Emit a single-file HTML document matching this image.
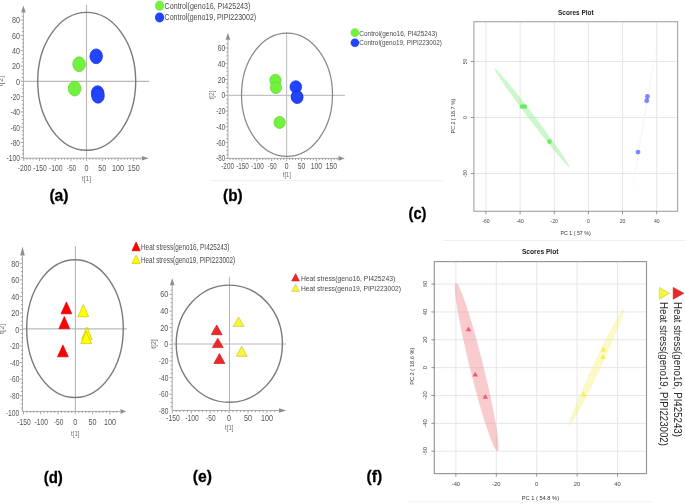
<!DOCTYPE html><html><head><meta charset="utf-8"><style>html,body{margin:0;padding:0;background:#fff;overflow:hidden}svg{display:block;will-change:transform}text{font-family:"Liberation Sans", sans-serif}</style></head><body>
<svg width="685" height="504" viewBox="0 0 685 504">
<rect width="685" height="504" fill="#fff"/>
<line x1="211" y1="180.6" x2="443" y2="180.6" stroke="#efefef" stroke-width="1"/>
<line x1="443" y1="240.5" x2="685" y2="240.5" stroke="#efefef" stroke-width="1"/>
<line x1="407" y1="501.8" x2="652" y2="501.8" stroke="#f2f2f2" stroke-width="1"/>
<line x1="23.4" y1="12.5" x2="23.4" y2="158.2" stroke="#acacac" stroke-width="1"/>
<polygon points="23.4,5.5 21.1,12.5 25.7,12.5" fill="#8e8e8e"/>
<line x1="23.4" y1="158.2" x2="142" y2="158.2" stroke="#acacac" stroke-width="1"/>
<polygon points="148.6,158.2 142,155.9 142,160.5" fill="#8e8e8e"/>
<line x1="20.6" y1="157.8" x2="23.4" y2="157.8" stroke="#8e8e8e" stroke-width="0.8"/>
<line x1="21.8" y1="153.97" x2="23.4" y2="153.97" stroke="#8e8e8e" stroke-width="0.8"/>
<line x1="21.8" y1="150.15" x2="23.4" y2="150.15" stroke="#8e8e8e" stroke-width="0.8"/>
<line x1="21.8" y1="146.32" x2="23.4" y2="146.32" stroke="#8e8e8e" stroke-width="0.8"/>
<line x1="20.6" y1="142.5" x2="23.4" y2="142.5" stroke="#8e8e8e" stroke-width="0.8"/>
<line x1="21.8" y1="138.68" x2="23.4" y2="138.68" stroke="#8e8e8e" stroke-width="0.8"/>
<line x1="21.8" y1="134.85" x2="23.4" y2="134.85" stroke="#8e8e8e" stroke-width="0.8"/>
<line x1="21.8" y1="131.03" x2="23.4" y2="131.03" stroke="#8e8e8e" stroke-width="0.8"/>
<line x1="20.6" y1="127.2" x2="23.4" y2="127.2" stroke="#8e8e8e" stroke-width="0.8"/>
<line x1="21.8" y1="123.38" x2="23.4" y2="123.38" stroke="#8e8e8e" stroke-width="0.8"/>
<line x1="21.8" y1="119.55" x2="23.4" y2="119.55" stroke="#8e8e8e" stroke-width="0.8"/>
<line x1="21.8" y1="115.72" x2="23.4" y2="115.72" stroke="#8e8e8e" stroke-width="0.8"/>
<line x1="20.6" y1="111.9" x2="23.4" y2="111.9" stroke="#8e8e8e" stroke-width="0.8"/>
<line x1="21.8" y1="108.08" x2="23.4" y2="108.08" stroke="#8e8e8e" stroke-width="0.8"/>
<line x1="21.8" y1="104.25" x2="23.4" y2="104.25" stroke="#8e8e8e" stroke-width="0.8"/>
<line x1="21.8" y1="100.42" x2="23.4" y2="100.42" stroke="#8e8e8e" stroke-width="0.8"/>
<line x1="20.6" y1="96.6" x2="23.4" y2="96.6" stroke="#8e8e8e" stroke-width="0.8"/>
<line x1="21.8" y1="92.77" x2="23.4" y2="92.77" stroke="#8e8e8e" stroke-width="0.8"/>
<line x1="21.8" y1="88.95" x2="23.4" y2="88.95" stroke="#8e8e8e" stroke-width="0.8"/>
<line x1="21.8" y1="85.12" x2="23.4" y2="85.12" stroke="#8e8e8e" stroke-width="0.8"/>
<line x1="20.6" y1="81.3" x2="23.4" y2="81.3" stroke="#8e8e8e" stroke-width="0.8"/>
<line x1="21.8" y1="77.47" x2="23.4" y2="77.47" stroke="#8e8e8e" stroke-width="0.8"/>
<line x1="21.8" y1="73.65" x2="23.4" y2="73.65" stroke="#8e8e8e" stroke-width="0.8"/>
<line x1="21.8" y1="69.83" x2="23.4" y2="69.83" stroke="#8e8e8e" stroke-width="0.8"/>
<line x1="20.6" y1="66" x2="23.4" y2="66" stroke="#8e8e8e" stroke-width="0.8"/>
<line x1="21.8" y1="62.17" x2="23.4" y2="62.17" stroke="#8e8e8e" stroke-width="0.8"/>
<line x1="21.8" y1="58.35" x2="23.4" y2="58.35" stroke="#8e8e8e" stroke-width="0.8"/>
<line x1="21.8" y1="54.52" x2="23.4" y2="54.52" stroke="#8e8e8e" stroke-width="0.8"/>
<line x1="20.6" y1="50.7" x2="23.4" y2="50.7" stroke="#8e8e8e" stroke-width="0.8"/>
<line x1="21.8" y1="46.88" x2="23.4" y2="46.88" stroke="#8e8e8e" stroke-width="0.8"/>
<line x1="21.8" y1="43.05" x2="23.4" y2="43.05" stroke="#8e8e8e" stroke-width="0.8"/>
<line x1="21.8" y1="39.22" x2="23.4" y2="39.22" stroke="#8e8e8e" stroke-width="0.8"/>
<line x1="20.6" y1="35.4" x2="23.4" y2="35.4" stroke="#8e8e8e" stroke-width="0.8"/>
<line x1="21.8" y1="31.57" x2="23.4" y2="31.57" stroke="#8e8e8e" stroke-width="0.8"/>
<line x1="21.8" y1="27.75" x2="23.4" y2="27.75" stroke="#8e8e8e" stroke-width="0.8"/>
<line x1="21.8" y1="23.92" x2="23.4" y2="23.92" stroke="#8e8e8e" stroke-width="0.8"/>
<line x1="20.6" y1="20.1" x2="23.4" y2="20.1" stroke="#8e8e8e" stroke-width="0.8"/>
<line x1="21.8" y1="16.27" x2="23.4" y2="16.27" stroke="#8e8e8e" stroke-width="0.8"/>
<line x1="23.8" y1="158.2" x2="23.8" y2="161" stroke="#8e8e8e" stroke-width="0.8"/>
<line x1="26.94" y1="158.2" x2="26.94" y2="159.8" stroke="#8e8e8e" stroke-width="0.8"/>
<line x1="30.08" y1="158.2" x2="30.08" y2="159.8" stroke="#8e8e8e" stroke-width="0.8"/>
<line x1="33.22" y1="158.2" x2="33.22" y2="159.8" stroke="#8e8e8e" stroke-width="0.8"/>
<line x1="36.36" y1="158.2" x2="36.36" y2="159.8" stroke="#8e8e8e" stroke-width="0.8"/>
<line x1="39.5" y1="158.2" x2="39.5" y2="161" stroke="#8e8e8e" stroke-width="0.8"/>
<line x1="42.64" y1="158.2" x2="42.64" y2="159.8" stroke="#8e8e8e" stroke-width="0.8"/>
<line x1="45.78" y1="158.2" x2="45.78" y2="159.8" stroke="#8e8e8e" stroke-width="0.8"/>
<line x1="48.92" y1="158.2" x2="48.92" y2="159.8" stroke="#8e8e8e" stroke-width="0.8"/>
<line x1="52.06" y1="158.2" x2="52.06" y2="159.8" stroke="#8e8e8e" stroke-width="0.8"/>
<line x1="55.2" y1="158.2" x2="55.2" y2="161" stroke="#8e8e8e" stroke-width="0.8"/>
<line x1="58.34" y1="158.2" x2="58.34" y2="159.8" stroke="#8e8e8e" stroke-width="0.8"/>
<line x1="61.48" y1="158.2" x2="61.48" y2="159.8" stroke="#8e8e8e" stroke-width="0.8"/>
<line x1="64.62" y1="158.2" x2="64.62" y2="159.8" stroke="#8e8e8e" stroke-width="0.8"/>
<line x1="67.76" y1="158.2" x2="67.76" y2="159.8" stroke="#8e8e8e" stroke-width="0.8"/>
<line x1="70.9" y1="158.2" x2="70.9" y2="161" stroke="#8e8e8e" stroke-width="0.8"/>
<line x1="74.04" y1="158.2" x2="74.04" y2="159.8" stroke="#8e8e8e" stroke-width="0.8"/>
<line x1="77.18" y1="158.2" x2="77.18" y2="159.8" stroke="#8e8e8e" stroke-width="0.8"/>
<line x1="80.32" y1="158.2" x2="80.32" y2="159.8" stroke="#8e8e8e" stroke-width="0.8"/>
<line x1="83.46" y1="158.2" x2="83.46" y2="159.8" stroke="#8e8e8e" stroke-width="0.8"/>
<line x1="86.6" y1="158.2" x2="86.6" y2="161" stroke="#8e8e8e" stroke-width="0.8"/>
<line x1="89.74" y1="158.2" x2="89.74" y2="159.8" stroke="#8e8e8e" stroke-width="0.8"/>
<line x1="92.88" y1="158.2" x2="92.88" y2="159.8" stroke="#8e8e8e" stroke-width="0.8"/>
<line x1="96.02" y1="158.2" x2="96.02" y2="159.8" stroke="#8e8e8e" stroke-width="0.8"/>
<line x1="99.16" y1="158.2" x2="99.16" y2="159.8" stroke="#8e8e8e" stroke-width="0.8"/>
<line x1="102.3" y1="158.2" x2="102.3" y2="161" stroke="#8e8e8e" stroke-width="0.8"/>
<line x1="105.44" y1="158.2" x2="105.44" y2="159.8" stroke="#8e8e8e" stroke-width="0.8"/>
<line x1="108.58" y1="158.2" x2="108.58" y2="159.8" stroke="#8e8e8e" stroke-width="0.8"/>
<line x1="111.72" y1="158.2" x2="111.72" y2="159.8" stroke="#8e8e8e" stroke-width="0.8"/>
<line x1="114.86" y1="158.2" x2="114.86" y2="159.8" stroke="#8e8e8e" stroke-width="0.8"/>
<line x1="118" y1="158.2" x2="118" y2="161" stroke="#8e8e8e" stroke-width="0.8"/>
<line x1="121.14" y1="158.2" x2="121.14" y2="159.8" stroke="#8e8e8e" stroke-width="0.8"/>
<line x1="124.28" y1="158.2" x2="124.28" y2="159.8" stroke="#8e8e8e" stroke-width="0.8"/>
<line x1="127.42" y1="158.2" x2="127.42" y2="159.8" stroke="#8e8e8e" stroke-width="0.8"/>
<line x1="130.56" y1="158.2" x2="130.56" y2="159.8" stroke="#8e8e8e" stroke-width="0.8"/>
<line x1="133.7" y1="158.2" x2="133.7" y2="161" stroke="#8e8e8e" stroke-width="0.8"/>
<line x1="136.84" y1="158.2" x2="136.84" y2="159.8" stroke="#8e8e8e" stroke-width="0.8"/>
<line x1="139.98" y1="158.2" x2="139.98" y2="159.8" stroke="#8e8e8e" stroke-width="0.8"/>
<text x="20" y="23.43" font-size="9.3" fill="#555" text-anchor="end" textLength="8.01" lengthAdjust="spacingAndGlyphs">80</text>
<text x="20" y="38.73" font-size="9.3" fill="#555" text-anchor="end" textLength="8.01" lengthAdjust="spacingAndGlyphs">60</text>
<text x="20" y="54.03" font-size="9.3" fill="#555" text-anchor="end" textLength="8.01" lengthAdjust="spacingAndGlyphs">40</text>
<text x="20" y="69.33" font-size="9.3" fill="#555" text-anchor="end" textLength="8.01" lengthAdjust="spacingAndGlyphs">20</text>
<text x="20" y="84.63" font-size="9.3" fill="#555" text-anchor="end" textLength="4" lengthAdjust="spacingAndGlyphs">0</text>
<text x="20" y="99.93" font-size="9.3" fill="#555" text-anchor="end" textLength="9.51" lengthAdjust="spacingAndGlyphs">-20</text>
<text x="20" y="115.23" font-size="9.3" fill="#555" text-anchor="end" textLength="9.51" lengthAdjust="spacingAndGlyphs">-40</text>
<text x="20" y="130.53" font-size="9.3" fill="#555" text-anchor="end" textLength="9.51" lengthAdjust="spacingAndGlyphs">-60</text>
<text x="20" y="145.83" font-size="9.3" fill="#555" text-anchor="end" textLength="9.51" lengthAdjust="spacingAndGlyphs">-80</text>
<text x="20" y="161.13" font-size="9.3" fill="#555" text-anchor="end" textLength="13.51" lengthAdjust="spacingAndGlyphs">-100</text>
<text x="24.4" y="171.43" font-size="9.3" fill="#555" text-anchor="middle" textLength="13.51" lengthAdjust="spacingAndGlyphs">-200</text>
<text x="40.1" y="171.43" font-size="9.3" fill="#555" text-anchor="middle" textLength="13.51" lengthAdjust="spacingAndGlyphs">-150</text>
<text x="55.8" y="171.43" font-size="9.3" fill="#555" text-anchor="middle" textLength="13.51" lengthAdjust="spacingAndGlyphs">-100</text>
<text x="71.5" y="171.43" font-size="9.3" fill="#555" text-anchor="middle" textLength="9.51" lengthAdjust="spacingAndGlyphs">-50</text>
<text x="86.6" y="171.43" font-size="9.3" fill="#555" text-anchor="middle" textLength="4" lengthAdjust="spacingAndGlyphs">0</text>
<text x="102.3" y="171.43" font-size="9.3" fill="#555" text-anchor="middle" textLength="8.01" lengthAdjust="spacingAndGlyphs">50</text>
<text x="118" y="171.43" font-size="9.3" fill="#555" text-anchor="middle" textLength="12.01" lengthAdjust="spacingAndGlyphs">100</text>
<text x="133.7" y="171.43" font-size="9.3" fill="#555" text-anchor="middle" textLength="12.01" lengthAdjust="spacingAndGlyphs">150</text>
<line x1="23.4" y1="81.3" x2="149.2" y2="81.3" stroke="#b9b9b9" stroke-width="1.15"/>
<line x1="86.5" y1="4.8" x2="86.5" y2="158.2" stroke="#b9b9b9" stroke-width="1.15"/>
<ellipse cx="86.7" cy="81.35" rx="49" ry="68.95" fill="none" stroke="#7a7a7a" stroke-width="1.4"/>
<text x="86.6" y="181.27" font-size="7.2" fill="#707070" text-anchor="middle" textLength="9.1" lengthAdjust="spacingAndGlyphs">t[1]</text>
<text x="2.6" y="81" font-size="7.2" fill="#707070" text-anchor="middle" textLength="10.6" lengthAdjust="spacingAndGlyphs" transform="rotate(-90 2.6 81)">t[2]</text>
<ellipse cx="79.1" cy="64.2" rx="6.3" ry="7.4" fill="#72f23e" stroke="#5ed232" stroke-width="0.7"/>
<ellipse cx="74.6" cy="88.6" rx="6.3" ry="7.4" fill="#72f23e" stroke="#5ed232" stroke-width="0.7"/>
<ellipse cx="96.2" cy="56.3" rx="6.3" ry="7.4" fill="#2244ff" stroke="#1632d2" stroke-width="0.7"/>
<ellipse cx="97.6" cy="93.1" rx="6.3" ry="7.4" fill="#2244ff" stroke="#1632d2" stroke-width="0.7"/>
<ellipse cx="98" cy="95.8" rx="6.3" ry="7.4" fill="#2244ff" stroke="#1632d2" stroke-width="0.7"/>
<ellipse cx="159.6" cy="5.8" rx="4.6" ry="5" fill="#72f23e"/>
<ellipse cx="159.6" cy="17.5" rx="4.6" ry="5" fill="#2244ff"/>
<text x="164.6" y="9.1" font-size="8.6" fill="#4a4a4a" textLength="85.8" lengthAdjust="spacingAndGlyphs">Control(geno16, PI425243)</text>
<text x="164.6" y="20.4" font-size="8.6" fill="#4a4a4a" textLength="91.6" lengthAdjust="spacingAndGlyphs">Control(geno19, PIPI223002)</text>
<text x="49.4" y="201" font-size="17" fill="#000" font-weight="bold" textLength="19.2" lengthAdjust="spacingAndGlyphs" stroke="#000" stroke-width="0.3">(a)</text>
<line x1="227.9" y1="39.8" x2="227.9" y2="158.4" stroke="#acacac" stroke-width="1"/>
<polygon points="227.9,32.7 225.6,39.8 230.2,39.8" fill="#8e8e8e"/>
<line x1="227.9" y1="158.4" x2="338.5" y2="158.4" stroke="#acacac" stroke-width="1"/>
<polygon points="344.8,158.4 338.5,156.1 338.5,160.7" fill="#8e8e8e"/>
<line x1="225.1" y1="158.42" x2="227.9" y2="158.42" stroke="#8e8e8e" stroke-width="0.8"/>
<line x1="226.3" y1="154.47" x2="227.9" y2="154.47" stroke="#8e8e8e" stroke-width="0.8"/>
<line x1="226.3" y1="150.53" x2="227.9" y2="150.53" stroke="#8e8e8e" stroke-width="0.8"/>
<line x1="226.3" y1="146.59" x2="227.9" y2="146.59" stroke="#8e8e8e" stroke-width="0.8"/>
<line x1="225.1" y1="142.64" x2="227.9" y2="142.64" stroke="#8e8e8e" stroke-width="0.8"/>
<line x1="226.3" y1="138.69" x2="227.9" y2="138.69" stroke="#8e8e8e" stroke-width="0.8"/>
<line x1="226.3" y1="134.75" x2="227.9" y2="134.75" stroke="#8e8e8e" stroke-width="0.8"/>
<line x1="226.3" y1="130.81" x2="227.9" y2="130.81" stroke="#8e8e8e" stroke-width="0.8"/>
<line x1="225.1" y1="126.86" x2="227.9" y2="126.86" stroke="#8e8e8e" stroke-width="0.8"/>
<line x1="226.3" y1="122.91" x2="227.9" y2="122.91" stroke="#8e8e8e" stroke-width="0.8"/>
<line x1="226.3" y1="118.97" x2="227.9" y2="118.97" stroke="#8e8e8e" stroke-width="0.8"/>
<line x1="226.3" y1="115.03" x2="227.9" y2="115.03" stroke="#8e8e8e" stroke-width="0.8"/>
<line x1="225.1" y1="111.08" x2="227.9" y2="111.08" stroke="#8e8e8e" stroke-width="0.8"/>
<line x1="226.3" y1="107.13" x2="227.9" y2="107.13" stroke="#8e8e8e" stroke-width="0.8"/>
<line x1="226.3" y1="103.19" x2="227.9" y2="103.19" stroke="#8e8e8e" stroke-width="0.8"/>
<line x1="226.3" y1="99.25" x2="227.9" y2="99.25" stroke="#8e8e8e" stroke-width="0.8"/>
<line x1="225.1" y1="95.3" x2="227.9" y2="95.3" stroke="#8e8e8e" stroke-width="0.8"/>
<line x1="226.3" y1="91.35" x2="227.9" y2="91.35" stroke="#8e8e8e" stroke-width="0.8"/>
<line x1="226.3" y1="87.41" x2="227.9" y2="87.41" stroke="#8e8e8e" stroke-width="0.8"/>
<line x1="226.3" y1="83.47" x2="227.9" y2="83.47" stroke="#8e8e8e" stroke-width="0.8"/>
<line x1="225.1" y1="79.52" x2="227.9" y2="79.52" stroke="#8e8e8e" stroke-width="0.8"/>
<line x1="226.3" y1="75.57" x2="227.9" y2="75.57" stroke="#8e8e8e" stroke-width="0.8"/>
<line x1="226.3" y1="71.63" x2="227.9" y2="71.63" stroke="#8e8e8e" stroke-width="0.8"/>
<line x1="226.3" y1="67.69" x2="227.9" y2="67.69" stroke="#8e8e8e" stroke-width="0.8"/>
<line x1="225.1" y1="63.74" x2="227.9" y2="63.74" stroke="#8e8e8e" stroke-width="0.8"/>
<line x1="226.3" y1="59.79" x2="227.9" y2="59.79" stroke="#8e8e8e" stroke-width="0.8"/>
<line x1="226.3" y1="55.85" x2="227.9" y2="55.85" stroke="#8e8e8e" stroke-width="0.8"/>
<line x1="226.3" y1="51.9" x2="227.9" y2="51.9" stroke="#8e8e8e" stroke-width="0.8"/>
<line x1="225.1" y1="47.96" x2="227.9" y2="47.96" stroke="#8e8e8e" stroke-width="0.8"/>
<line x1="226.3" y1="44.01" x2="227.9" y2="44.01" stroke="#8e8e8e" stroke-width="0.8"/>
<line x1="229.98" y1="158.4" x2="229.98" y2="160" stroke="#8e8e8e" stroke-width="0.8"/>
<line x1="232.96" y1="158.4" x2="232.96" y2="160" stroke="#8e8e8e" stroke-width="0.8"/>
<line x1="235.94" y1="158.4" x2="235.94" y2="160" stroke="#8e8e8e" stroke-width="0.8"/>
<line x1="238.92" y1="158.4" x2="238.92" y2="160" stroke="#8e8e8e" stroke-width="0.8"/>
<line x1="241.9" y1="158.4" x2="241.9" y2="161.2" stroke="#8e8e8e" stroke-width="0.8"/>
<line x1="244.88" y1="158.4" x2="244.88" y2="160" stroke="#8e8e8e" stroke-width="0.8"/>
<line x1="247.86" y1="158.4" x2="247.86" y2="160" stroke="#8e8e8e" stroke-width="0.8"/>
<line x1="250.84" y1="158.4" x2="250.84" y2="160" stroke="#8e8e8e" stroke-width="0.8"/>
<line x1="253.82" y1="158.4" x2="253.82" y2="160" stroke="#8e8e8e" stroke-width="0.8"/>
<line x1="256.8" y1="158.4" x2="256.8" y2="161.2" stroke="#8e8e8e" stroke-width="0.8"/>
<line x1="259.78" y1="158.4" x2="259.78" y2="160" stroke="#8e8e8e" stroke-width="0.8"/>
<line x1="262.76" y1="158.4" x2="262.76" y2="160" stroke="#8e8e8e" stroke-width="0.8"/>
<line x1="265.74" y1="158.4" x2="265.74" y2="160" stroke="#8e8e8e" stroke-width="0.8"/>
<line x1="268.72" y1="158.4" x2="268.72" y2="160" stroke="#8e8e8e" stroke-width="0.8"/>
<line x1="271.7" y1="158.4" x2="271.7" y2="161.2" stroke="#8e8e8e" stroke-width="0.8"/>
<line x1="274.68" y1="158.4" x2="274.68" y2="160" stroke="#8e8e8e" stroke-width="0.8"/>
<line x1="277.66" y1="158.4" x2="277.66" y2="160" stroke="#8e8e8e" stroke-width="0.8"/>
<line x1="280.64" y1="158.4" x2="280.64" y2="160" stroke="#8e8e8e" stroke-width="0.8"/>
<line x1="283.62" y1="158.4" x2="283.62" y2="160" stroke="#8e8e8e" stroke-width="0.8"/>
<line x1="286.6" y1="158.4" x2="286.6" y2="161.2" stroke="#8e8e8e" stroke-width="0.8"/>
<line x1="289.58" y1="158.4" x2="289.58" y2="160" stroke="#8e8e8e" stroke-width="0.8"/>
<line x1="292.56" y1="158.4" x2="292.56" y2="160" stroke="#8e8e8e" stroke-width="0.8"/>
<line x1="295.54" y1="158.4" x2="295.54" y2="160" stroke="#8e8e8e" stroke-width="0.8"/>
<line x1="298.52" y1="158.4" x2="298.52" y2="160" stroke="#8e8e8e" stroke-width="0.8"/>
<line x1="301.5" y1="158.4" x2="301.5" y2="161.2" stroke="#8e8e8e" stroke-width="0.8"/>
<line x1="304.48" y1="158.4" x2="304.48" y2="160" stroke="#8e8e8e" stroke-width="0.8"/>
<line x1="307.46" y1="158.4" x2="307.46" y2="160" stroke="#8e8e8e" stroke-width="0.8"/>
<line x1="310.44" y1="158.4" x2="310.44" y2="160" stroke="#8e8e8e" stroke-width="0.8"/>
<line x1="313.42" y1="158.4" x2="313.42" y2="160" stroke="#8e8e8e" stroke-width="0.8"/>
<line x1="316.4" y1="158.4" x2="316.4" y2="161.2" stroke="#8e8e8e" stroke-width="0.8"/>
<line x1="319.38" y1="158.4" x2="319.38" y2="160" stroke="#8e8e8e" stroke-width="0.8"/>
<line x1="322.36" y1="158.4" x2="322.36" y2="160" stroke="#8e8e8e" stroke-width="0.8"/>
<line x1="325.34" y1="158.4" x2="325.34" y2="160" stroke="#8e8e8e" stroke-width="0.8"/>
<line x1="328.32" y1="158.4" x2="328.32" y2="160" stroke="#8e8e8e" stroke-width="0.8"/>
<line x1="331.3" y1="158.4" x2="331.3" y2="161.2" stroke="#8e8e8e" stroke-width="0.8"/>
<line x1="334.28" y1="158.4" x2="334.28" y2="160" stroke="#8e8e8e" stroke-width="0.8"/>
<line x1="337.26" y1="158.4" x2="337.26" y2="160" stroke="#8e8e8e" stroke-width="0.8"/>
<text x="225.2" y="50.97" font-size="8.4" fill="#555" text-anchor="end" textLength="7.56" lengthAdjust="spacingAndGlyphs">60</text>
<text x="225.2" y="66.75" font-size="8.4" fill="#555" text-anchor="end" textLength="7.56" lengthAdjust="spacingAndGlyphs">40</text>
<text x="225.2" y="82.53" font-size="8.4" fill="#555" text-anchor="end" textLength="7.56" lengthAdjust="spacingAndGlyphs">20</text>
<text x="225.2" y="98.31" font-size="8.4" fill="#555" text-anchor="end" textLength="3.78" lengthAdjust="spacingAndGlyphs">0</text>
<text x="225.2" y="114.09" font-size="8.4" fill="#555" text-anchor="end" textLength="8.93" lengthAdjust="spacingAndGlyphs">-20</text>
<text x="225.2" y="129.87" font-size="8.4" fill="#555" text-anchor="end" textLength="8.93" lengthAdjust="spacingAndGlyphs">-40</text>
<text x="225.2" y="145.65" font-size="8.4" fill="#555" text-anchor="end" textLength="8.93" lengthAdjust="spacingAndGlyphs">-60</text>
<text x="225.2" y="161.43" font-size="8.4" fill="#555" text-anchor="end" textLength="8.93" lengthAdjust="spacingAndGlyphs">-80</text>
<text x="227.6" y="169.21" font-size="8.4" fill="#555" text-anchor="middle" textLength="12.71" lengthAdjust="spacingAndGlyphs">-200</text>
<text x="242.5" y="169.21" font-size="8.4" fill="#555" text-anchor="middle" textLength="12.71" lengthAdjust="spacingAndGlyphs">-150</text>
<text x="257.4" y="169.21" font-size="8.4" fill="#555" text-anchor="middle" textLength="12.71" lengthAdjust="spacingAndGlyphs">-100</text>
<text x="272.3" y="169.21" font-size="8.4" fill="#555" text-anchor="middle" textLength="8.93" lengthAdjust="spacingAndGlyphs">-50</text>
<text x="286.6" y="169.21" font-size="8.4" fill="#555" text-anchor="middle" textLength="3.78" lengthAdjust="spacingAndGlyphs">0</text>
<text x="301.5" y="169.21" font-size="8.4" fill="#555" text-anchor="middle" textLength="7.56" lengthAdjust="spacingAndGlyphs">50</text>
<text x="316.4" y="169.21" font-size="8.4" fill="#555" text-anchor="middle" textLength="11.34" lengthAdjust="spacingAndGlyphs">100</text>
<text x="331.3" y="169.21" font-size="8.4" fill="#555" text-anchor="middle" textLength="11.34" lengthAdjust="spacingAndGlyphs">150</text>
<line x1="227.9" y1="95.3" x2="345" y2="95.3" stroke="#c2c2c2" stroke-width="1.15"/>
<line x1="286.6" y1="32" x2="286.6" y2="158.4" stroke="#c2c2c2" stroke-width="1.15"/>
<ellipse cx="287" cy="94.7" rx="45.5" ry="61.6" fill="none" stroke="#888888" stroke-width="1.25"/>
<text x="286.9" y="177.16" font-size="6.4" fill="#707070" text-anchor="middle" textLength="8.2" lengthAdjust="spacingAndGlyphs">t[1]</text>
<text x="213.6" y="95" font-size="6.4" fill="#707070" text-anchor="middle" textLength="9" lengthAdjust="spacingAndGlyphs" transform="rotate(-90 213.6 95)">t[2]</text>
<ellipse cx="275.4" cy="80.2" rx="5.65" ry="6" fill="#72f23e" stroke="#5ed232" stroke-width="0.7"/>
<ellipse cx="275.9" cy="87.6" rx="5.65" ry="6" fill="#72f23e" stroke="#5ed232" stroke-width="0.7"/>
<ellipse cx="279.6" cy="122.4" rx="5.65" ry="6" fill="#72f23e" stroke="#5ed232" stroke-width="0.7"/>
<ellipse cx="295.8" cy="86.9" rx="5.8" ry="6.2" fill="#2244ff" stroke="#1632d2" stroke-width="0.7"/>
<ellipse cx="297" cy="96.6" rx="5.8" ry="6.2" fill="#2244ff" stroke="#1632d2" stroke-width="0.7"/>
<ellipse cx="297.2" cy="97.4" rx="5.8" ry="6.2" fill="#2244ff" stroke="#1632d2" stroke-width="0.7"/>
<circle cx="354.9" cy="32.6" r="4.3" fill="#72f23e"/>
<circle cx="354.9" cy="42.8" r="4.3" fill="#2244ff"/>
<text x="359.3" y="35.7" font-size="7.9" fill="#4a4a4a" textLength="77.9" lengthAdjust="spacingAndGlyphs">Control(geno16, PI425243)</text>
<text x="359.3" y="44.9" font-size="7.9" fill="#4a4a4a" textLength="82.7" lengthAdjust="spacingAndGlyphs">Control(geno19, PIPI223002)</text>
<text x="223.1" y="200.6" font-size="17" fill="#000" font-weight="bold" textLength="19.5" lengthAdjust="spacingAndGlyphs" stroke="#000" stroke-width="0.3">(b)</text>
<line x1="22.5" y1="255.6" x2="22.5" y2="411.4" stroke="#acacac" stroke-width="1"/>
<polygon points="22.5,246.5 20.2,255.6 24.8,255.6" fill="#8e8e8e"/>
<line x1="22.5" y1="411.4" x2="120.5" y2="411.4" stroke="#acacac" stroke-width="1"/>
<polygon points="126.2,411.4 120.5,409.1 120.5,413.7" fill="#8e8e8e"/>
<line x1="20.9" y1="408.06" x2="22.5" y2="408.06" stroke="#8e8e8e" stroke-width="0.8"/>
<line x1="20.9" y1="403.93" x2="22.5" y2="403.93" stroke="#8e8e8e" stroke-width="0.8"/>
<line x1="20.9" y1="399.8" x2="22.5" y2="399.8" stroke="#8e8e8e" stroke-width="0.8"/>
<line x1="19.7" y1="395.66" x2="22.5" y2="395.66" stroke="#8e8e8e" stroke-width="0.8"/>
<line x1="20.9" y1="391.52" x2="22.5" y2="391.52" stroke="#8e8e8e" stroke-width="0.8"/>
<line x1="20.9" y1="387.39" x2="22.5" y2="387.39" stroke="#8e8e8e" stroke-width="0.8"/>
<line x1="20.9" y1="383.25" x2="22.5" y2="383.25" stroke="#8e8e8e" stroke-width="0.8"/>
<line x1="19.7" y1="379.12" x2="22.5" y2="379.12" stroke="#8e8e8e" stroke-width="0.8"/>
<line x1="20.9" y1="374.99" x2="22.5" y2="374.99" stroke="#8e8e8e" stroke-width="0.8"/>
<line x1="20.9" y1="370.85" x2="22.5" y2="370.85" stroke="#8e8e8e" stroke-width="0.8"/>
<line x1="20.9" y1="366.71" x2="22.5" y2="366.71" stroke="#8e8e8e" stroke-width="0.8"/>
<line x1="19.7" y1="362.58" x2="22.5" y2="362.58" stroke="#8e8e8e" stroke-width="0.8"/>
<line x1="20.9" y1="358.44" x2="22.5" y2="358.44" stroke="#8e8e8e" stroke-width="0.8"/>
<line x1="20.9" y1="354.31" x2="22.5" y2="354.31" stroke="#8e8e8e" stroke-width="0.8"/>
<line x1="20.9" y1="350.18" x2="22.5" y2="350.18" stroke="#8e8e8e" stroke-width="0.8"/>
<line x1="19.7" y1="346.04" x2="22.5" y2="346.04" stroke="#8e8e8e" stroke-width="0.8"/>
<line x1="20.9" y1="341.9" x2="22.5" y2="341.9" stroke="#8e8e8e" stroke-width="0.8"/>
<line x1="20.9" y1="337.77" x2="22.5" y2="337.77" stroke="#8e8e8e" stroke-width="0.8"/>
<line x1="20.9" y1="333.63" x2="22.5" y2="333.63" stroke="#8e8e8e" stroke-width="0.8"/>
<line x1="19.7" y1="329.5" x2="22.5" y2="329.5" stroke="#8e8e8e" stroke-width="0.8"/>
<line x1="20.9" y1="325.37" x2="22.5" y2="325.37" stroke="#8e8e8e" stroke-width="0.8"/>
<line x1="20.9" y1="321.23" x2="22.5" y2="321.23" stroke="#8e8e8e" stroke-width="0.8"/>
<line x1="20.9" y1="317.1" x2="22.5" y2="317.1" stroke="#8e8e8e" stroke-width="0.8"/>
<line x1="19.7" y1="312.96" x2="22.5" y2="312.96" stroke="#8e8e8e" stroke-width="0.8"/>
<line x1="20.9" y1="308.82" x2="22.5" y2="308.82" stroke="#8e8e8e" stroke-width="0.8"/>
<line x1="20.9" y1="304.69" x2="22.5" y2="304.69" stroke="#8e8e8e" stroke-width="0.8"/>
<line x1="20.9" y1="300.56" x2="22.5" y2="300.56" stroke="#8e8e8e" stroke-width="0.8"/>
<line x1="19.7" y1="296.42" x2="22.5" y2="296.42" stroke="#8e8e8e" stroke-width="0.8"/>
<line x1="20.9" y1="292.29" x2="22.5" y2="292.29" stroke="#8e8e8e" stroke-width="0.8"/>
<line x1="20.9" y1="288.15" x2="22.5" y2="288.15" stroke="#8e8e8e" stroke-width="0.8"/>
<line x1="20.9" y1="284.01" x2="22.5" y2="284.01" stroke="#8e8e8e" stroke-width="0.8"/>
<line x1="19.7" y1="279.88" x2="22.5" y2="279.88" stroke="#8e8e8e" stroke-width="0.8"/>
<line x1="20.9" y1="275.75" x2="22.5" y2="275.75" stroke="#8e8e8e" stroke-width="0.8"/>
<line x1="20.9" y1="271.61" x2="22.5" y2="271.61" stroke="#8e8e8e" stroke-width="0.8"/>
<line x1="20.9" y1="267.48" x2="22.5" y2="267.48" stroke="#8e8e8e" stroke-width="0.8"/>
<line x1="19.7" y1="263.34" x2="22.5" y2="263.34" stroke="#8e8e8e" stroke-width="0.8"/>
<line x1="20.9" y1="259.2" x2="22.5" y2="259.2" stroke="#8e8e8e" stroke-width="0.8"/>
<line x1="23.4" y1="411.4" x2="23.4" y2="414.2" stroke="#8e8e8e" stroke-width="0.8"/>
<line x1="26.86" y1="411.4" x2="26.86" y2="413" stroke="#8e8e8e" stroke-width="0.8"/>
<line x1="30.32" y1="411.4" x2="30.32" y2="413" stroke="#8e8e8e" stroke-width="0.8"/>
<line x1="33.78" y1="411.4" x2="33.78" y2="413" stroke="#8e8e8e" stroke-width="0.8"/>
<line x1="37.24" y1="411.4" x2="37.24" y2="413" stroke="#8e8e8e" stroke-width="0.8"/>
<line x1="40.7" y1="411.4" x2="40.7" y2="414.2" stroke="#8e8e8e" stroke-width="0.8"/>
<line x1="44.16" y1="411.4" x2="44.16" y2="413" stroke="#8e8e8e" stroke-width="0.8"/>
<line x1="47.62" y1="411.4" x2="47.62" y2="413" stroke="#8e8e8e" stroke-width="0.8"/>
<line x1="51.08" y1="411.4" x2="51.08" y2="413" stroke="#8e8e8e" stroke-width="0.8"/>
<line x1="54.54" y1="411.4" x2="54.54" y2="413" stroke="#8e8e8e" stroke-width="0.8"/>
<line x1="58" y1="411.4" x2="58" y2="414.2" stroke="#8e8e8e" stroke-width="0.8"/>
<line x1="61.46" y1="411.4" x2="61.46" y2="413" stroke="#8e8e8e" stroke-width="0.8"/>
<line x1="64.92" y1="411.4" x2="64.92" y2="413" stroke="#8e8e8e" stroke-width="0.8"/>
<line x1="68.38" y1="411.4" x2="68.38" y2="413" stroke="#8e8e8e" stroke-width="0.8"/>
<line x1="71.84" y1="411.4" x2="71.84" y2="413" stroke="#8e8e8e" stroke-width="0.8"/>
<line x1="75.3" y1="411.4" x2="75.3" y2="414.2" stroke="#8e8e8e" stroke-width="0.8"/>
<line x1="78.76" y1="411.4" x2="78.76" y2="413" stroke="#8e8e8e" stroke-width="0.8"/>
<line x1="82.22" y1="411.4" x2="82.22" y2="413" stroke="#8e8e8e" stroke-width="0.8"/>
<line x1="85.68" y1="411.4" x2="85.68" y2="413" stroke="#8e8e8e" stroke-width="0.8"/>
<line x1="89.14" y1="411.4" x2="89.14" y2="413" stroke="#8e8e8e" stroke-width="0.8"/>
<line x1="92.6" y1="411.4" x2="92.6" y2="414.2" stroke="#8e8e8e" stroke-width="0.8"/>
<line x1="96.06" y1="411.4" x2="96.06" y2="413" stroke="#8e8e8e" stroke-width="0.8"/>
<line x1="99.52" y1="411.4" x2="99.52" y2="413" stroke="#8e8e8e" stroke-width="0.8"/>
<line x1="102.98" y1="411.4" x2="102.98" y2="413" stroke="#8e8e8e" stroke-width="0.8"/>
<line x1="106.44" y1="411.4" x2="106.44" y2="413" stroke="#8e8e8e" stroke-width="0.8"/>
<line x1="109.9" y1="411.4" x2="109.9" y2="414.2" stroke="#8e8e8e" stroke-width="0.8"/>
<line x1="113.36" y1="411.4" x2="113.36" y2="413" stroke="#8e8e8e" stroke-width="0.8"/>
<line x1="116.82" y1="411.4" x2="116.82" y2="413" stroke="#8e8e8e" stroke-width="0.8"/>
<text x="19.3" y="266.67" font-size="9.3" fill="#555" text-anchor="end" textLength="8.01" lengthAdjust="spacingAndGlyphs">80</text>
<text x="19.3" y="283.21" font-size="9.3" fill="#555" text-anchor="end" textLength="8.01" lengthAdjust="spacingAndGlyphs">60</text>
<text x="19.3" y="299.75" font-size="9.3" fill="#555" text-anchor="end" textLength="8.01" lengthAdjust="spacingAndGlyphs">40</text>
<text x="19.3" y="316.29" font-size="9.3" fill="#555" text-anchor="end" textLength="8.01" lengthAdjust="spacingAndGlyphs">20</text>
<text x="19.3" y="332.83" font-size="9.3" fill="#555" text-anchor="end" textLength="4" lengthAdjust="spacingAndGlyphs">0</text>
<text x="19.3" y="349.37" font-size="9.3" fill="#555" text-anchor="end" textLength="9.51" lengthAdjust="spacingAndGlyphs">-20</text>
<text x="19.3" y="365.91" font-size="9.3" fill="#555" text-anchor="end" textLength="9.51" lengthAdjust="spacingAndGlyphs">-40</text>
<text x="19.3" y="382.45" font-size="9.3" fill="#555" text-anchor="end" textLength="9.51" lengthAdjust="spacingAndGlyphs">-60</text>
<text x="19.3" y="398.99" font-size="9.3" fill="#555" text-anchor="end" textLength="9.51" lengthAdjust="spacingAndGlyphs">-80</text>
<text x="19.3" y="415.53" font-size="9.3" fill="#555" text-anchor="end" textLength="13.51" lengthAdjust="spacingAndGlyphs">-100</text>
<text x="24" y="425.33" font-size="9.3" fill="#555" text-anchor="middle" textLength="13.51" lengthAdjust="spacingAndGlyphs">-150</text>
<text x="41.3" y="425.33" font-size="9.3" fill="#555" text-anchor="middle" textLength="13.51" lengthAdjust="spacingAndGlyphs">-100</text>
<text x="58.6" y="425.33" font-size="9.3" fill="#555" text-anchor="middle" textLength="9.51" lengthAdjust="spacingAndGlyphs">-50</text>
<text x="75.3" y="425.33" font-size="9.3" fill="#555" text-anchor="middle" textLength="4" lengthAdjust="spacingAndGlyphs">0</text>
<text x="92.6" y="425.33" font-size="9.3" fill="#555" text-anchor="middle" textLength="8.01" lengthAdjust="spacingAndGlyphs">50</text>
<text x="109.9" y="425.33" font-size="9.3" fill="#555" text-anchor="middle" textLength="12.01" lengthAdjust="spacingAndGlyphs">100</text>
<line x1="22.5" y1="328.8" x2="127" y2="328.8" stroke="#b9b9b9" stroke-width="1.15"/>
<line x1="75.4" y1="246.3" x2="75.4" y2="411.4" stroke="#b9b9b9" stroke-width="1.15"/>
<ellipse cx="75" cy="328.65" rx="48.3" ry="68.9" fill="none" stroke="#7a7a7a" stroke-width="1.4"/>
<text x="75.3" y="436.32" font-size="7" fill="#707070" text-anchor="middle" textLength="8.4" lengthAdjust="spacingAndGlyphs">t[1]</text>
<text x="4.4" y="328.8" font-size="7.2" fill="#707070" text-anchor="middle" textLength="10.5" lengthAdjust="spacingAndGlyphs" transform="rotate(-90 4.4 328.8)">t[2]</text>
<polygon points="66.4,301.9 61,313.8 71.8,313.8" fill="#ff0000" stroke="#e00000" stroke-width="0.7" stroke-linejoin="round"/>
<polygon points="64.3,316.4 58.9,328.7 69.7,328.7" fill="#ff0000" stroke="#e00000" stroke-width="0.7" stroke-linejoin="round"/>
<polygon points="62.9,344.9 57.5,356.8 68.3,356.8" fill="#ff0000" stroke="#e00000" stroke-width="0.7" stroke-linejoin="round"/>
<polygon points="83.3,304.5 78,316.8 88.6,316.8" fill="#ffff00" stroke="#c8c800" stroke-width="0.7" stroke-linejoin="round"/>
<polygon points="86.9,327.1 81.6,339.4 92.2,339.4" fill="#ffff00" stroke="#c8c800" stroke-width="0.7" stroke-linejoin="round"/>
<polygon points="86.1,331.1 80.8,343.6 91.4,343.6" fill="#ffff00" stroke="#c8c800" stroke-width="0.7" stroke-linejoin="round"/>
<polygon points="136.1,242 132,250.8 140.2,250.8" fill="#ff0000" stroke="#e00000" stroke-width="0.7" stroke-linejoin="round"/>
<polygon points="136.1,255.1 132,263.4 140.2,263.4" fill="#ffff00" stroke="#c8c800" stroke-width="0.7" stroke-linejoin="round"/>
<text x="141" y="250.4" font-size="8.6" fill="#4a4a4a" textLength="88.5" lengthAdjust="spacingAndGlyphs">Heat stress(geno16, PI425243)</text>
<text x="141" y="263" font-size="8.6" fill="#4a4a4a" textLength="94.1" lengthAdjust="spacingAndGlyphs">Heat stress(geno19, PIPI223002)</text>
<text x="43.7" y="482.9" font-size="17" fill="#000" font-weight="bold" textLength="19.2" lengthAdjust="spacingAndGlyphs" stroke="#000" stroke-width="0.3">(d)</text>
<line x1="172.2" y1="285.2" x2="172.2" y2="410.5" stroke="#acacac" stroke-width="1"/>
<polygon points="172.2,278 169.9,285.2 174.5,285.2" fill="#8e8e8e"/>
<line x1="172.2" y1="410.5" x2="279" y2="410.5" stroke="#acacac" stroke-width="1"/>
<polygon points="286.2,410.5 279,408.2 279,412.8" fill="#8e8e8e"/>
<line x1="170.6" y1="406.7" x2="172.2" y2="406.7" stroke="#8e8e8e" stroke-width="0.8"/>
<line x1="170.6" y1="402.54" x2="172.2" y2="402.54" stroke="#8e8e8e" stroke-width="0.8"/>
<line x1="170.6" y1="398.38" x2="172.2" y2="398.38" stroke="#8e8e8e" stroke-width="0.8"/>
<line x1="169.4" y1="394.22" x2="172.2" y2="394.22" stroke="#8e8e8e" stroke-width="0.8"/>
<line x1="170.6" y1="390.06" x2="172.2" y2="390.06" stroke="#8e8e8e" stroke-width="0.8"/>
<line x1="170.6" y1="385.9" x2="172.2" y2="385.9" stroke="#8e8e8e" stroke-width="0.8"/>
<line x1="170.6" y1="381.74" x2="172.2" y2="381.74" stroke="#8e8e8e" stroke-width="0.8"/>
<line x1="169.4" y1="377.58" x2="172.2" y2="377.58" stroke="#8e8e8e" stroke-width="0.8"/>
<line x1="170.6" y1="373.42" x2="172.2" y2="373.42" stroke="#8e8e8e" stroke-width="0.8"/>
<line x1="170.6" y1="369.26" x2="172.2" y2="369.26" stroke="#8e8e8e" stroke-width="0.8"/>
<line x1="170.6" y1="365.1" x2="172.2" y2="365.1" stroke="#8e8e8e" stroke-width="0.8"/>
<line x1="169.4" y1="360.94" x2="172.2" y2="360.94" stroke="#8e8e8e" stroke-width="0.8"/>
<line x1="170.6" y1="356.78" x2="172.2" y2="356.78" stroke="#8e8e8e" stroke-width="0.8"/>
<line x1="170.6" y1="352.62" x2="172.2" y2="352.62" stroke="#8e8e8e" stroke-width="0.8"/>
<line x1="170.6" y1="348.46" x2="172.2" y2="348.46" stroke="#8e8e8e" stroke-width="0.8"/>
<line x1="169.4" y1="344.3" x2="172.2" y2="344.3" stroke="#8e8e8e" stroke-width="0.8"/>
<line x1="170.6" y1="340.14" x2="172.2" y2="340.14" stroke="#8e8e8e" stroke-width="0.8"/>
<line x1="170.6" y1="335.98" x2="172.2" y2="335.98" stroke="#8e8e8e" stroke-width="0.8"/>
<line x1="170.6" y1="331.82" x2="172.2" y2="331.82" stroke="#8e8e8e" stroke-width="0.8"/>
<line x1="169.4" y1="327.66" x2="172.2" y2="327.66" stroke="#8e8e8e" stroke-width="0.8"/>
<line x1="170.6" y1="323.5" x2="172.2" y2="323.5" stroke="#8e8e8e" stroke-width="0.8"/>
<line x1="170.6" y1="319.34" x2="172.2" y2="319.34" stroke="#8e8e8e" stroke-width="0.8"/>
<line x1="170.6" y1="315.18" x2="172.2" y2="315.18" stroke="#8e8e8e" stroke-width="0.8"/>
<line x1="169.4" y1="311.02" x2="172.2" y2="311.02" stroke="#8e8e8e" stroke-width="0.8"/>
<line x1="170.6" y1="306.86" x2="172.2" y2="306.86" stroke="#8e8e8e" stroke-width="0.8"/>
<line x1="170.6" y1="302.7" x2="172.2" y2="302.7" stroke="#8e8e8e" stroke-width="0.8"/>
<line x1="170.6" y1="298.54" x2="172.2" y2="298.54" stroke="#8e8e8e" stroke-width="0.8"/>
<line x1="169.4" y1="294.38" x2="172.2" y2="294.38" stroke="#8e8e8e" stroke-width="0.8"/>
<line x1="170.6" y1="290.22" x2="172.2" y2="290.22" stroke="#8e8e8e" stroke-width="0.8"/>
<line x1="172.4" y1="410.5" x2="172.4" y2="413.3" stroke="#8e8e8e" stroke-width="0.8"/>
<line x1="176.18" y1="410.5" x2="176.18" y2="412.1" stroke="#8e8e8e" stroke-width="0.8"/>
<line x1="179.96" y1="410.5" x2="179.96" y2="412.1" stroke="#8e8e8e" stroke-width="0.8"/>
<line x1="183.74" y1="410.5" x2="183.74" y2="412.1" stroke="#8e8e8e" stroke-width="0.8"/>
<line x1="187.52" y1="410.5" x2="187.52" y2="412.1" stroke="#8e8e8e" stroke-width="0.8"/>
<line x1="191.3" y1="410.5" x2="191.3" y2="413.3" stroke="#8e8e8e" stroke-width="0.8"/>
<line x1="195.08" y1="410.5" x2="195.08" y2="412.1" stroke="#8e8e8e" stroke-width="0.8"/>
<line x1="198.86" y1="410.5" x2="198.86" y2="412.1" stroke="#8e8e8e" stroke-width="0.8"/>
<line x1="202.64" y1="410.5" x2="202.64" y2="412.1" stroke="#8e8e8e" stroke-width="0.8"/>
<line x1="206.42" y1="410.5" x2="206.42" y2="412.1" stroke="#8e8e8e" stroke-width="0.8"/>
<line x1="210.2" y1="410.5" x2="210.2" y2="413.3" stroke="#8e8e8e" stroke-width="0.8"/>
<line x1="213.98" y1="410.5" x2="213.98" y2="412.1" stroke="#8e8e8e" stroke-width="0.8"/>
<line x1="217.76" y1="410.5" x2="217.76" y2="412.1" stroke="#8e8e8e" stroke-width="0.8"/>
<line x1="221.54" y1="410.5" x2="221.54" y2="412.1" stroke="#8e8e8e" stroke-width="0.8"/>
<line x1="225.32" y1="410.5" x2="225.32" y2="412.1" stroke="#8e8e8e" stroke-width="0.8"/>
<line x1="229.1" y1="410.5" x2="229.1" y2="413.3" stroke="#8e8e8e" stroke-width="0.8"/>
<line x1="232.88" y1="410.5" x2="232.88" y2="412.1" stroke="#8e8e8e" stroke-width="0.8"/>
<line x1="236.66" y1="410.5" x2="236.66" y2="412.1" stroke="#8e8e8e" stroke-width="0.8"/>
<line x1="240.44" y1="410.5" x2="240.44" y2="412.1" stroke="#8e8e8e" stroke-width="0.8"/>
<line x1="244.22" y1="410.5" x2="244.22" y2="412.1" stroke="#8e8e8e" stroke-width="0.8"/>
<line x1="248" y1="410.5" x2="248" y2="413.3" stroke="#8e8e8e" stroke-width="0.8"/>
<line x1="251.78" y1="410.5" x2="251.78" y2="412.1" stroke="#8e8e8e" stroke-width="0.8"/>
<line x1="255.56" y1="410.5" x2="255.56" y2="412.1" stroke="#8e8e8e" stroke-width="0.8"/>
<line x1="259.34" y1="410.5" x2="259.34" y2="412.1" stroke="#8e8e8e" stroke-width="0.8"/>
<line x1="263.12" y1="410.5" x2="263.12" y2="412.1" stroke="#8e8e8e" stroke-width="0.8"/>
<line x1="266.9" y1="410.5" x2="266.9" y2="413.3" stroke="#8e8e8e" stroke-width="0.8"/>
<line x1="270.68" y1="410.5" x2="270.68" y2="412.1" stroke="#8e8e8e" stroke-width="0.8"/>
<line x1="274.46" y1="410.5" x2="274.46" y2="412.1" stroke="#8e8e8e" stroke-width="0.8"/>
<text x="168.3" y="297.46" font-size="8.6" fill="#555" text-anchor="end" textLength="8.01" lengthAdjust="spacingAndGlyphs">60</text>
<text x="168.3" y="314.1" font-size="8.6" fill="#555" text-anchor="end" textLength="8.01" lengthAdjust="spacingAndGlyphs">40</text>
<text x="168.3" y="330.74" font-size="8.6" fill="#555" text-anchor="end" textLength="8.01" lengthAdjust="spacingAndGlyphs">20</text>
<text x="168.3" y="347.38" font-size="8.6" fill="#555" text-anchor="end" textLength="4" lengthAdjust="spacingAndGlyphs">0</text>
<text x="168.3" y="364.02" font-size="8.6" fill="#555" text-anchor="end" textLength="9.51" lengthAdjust="spacingAndGlyphs">-20</text>
<text x="168.3" y="380.66" font-size="8.6" fill="#555" text-anchor="end" textLength="9.51" lengthAdjust="spacingAndGlyphs">-40</text>
<text x="168.3" y="397.3" font-size="8.6" fill="#555" text-anchor="end" textLength="9.51" lengthAdjust="spacingAndGlyphs">-60</text>
<text x="168.3" y="413.94" font-size="8.6" fill="#555" text-anchor="end" textLength="9.51" lengthAdjust="spacingAndGlyphs">-80</text>
<text x="173" y="421.28" font-size="8.6" fill="#555" text-anchor="middle" textLength="13.51" lengthAdjust="spacingAndGlyphs">-150</text>
<text x="191.9" y="421.28" font-size="8.6" fill="#555" text-anchor="middle" textLength="13.51" lengthAdjust="spacingAndGlyphs">-100</text>
<text x="210.8" y="421.28" font-size="8.6" fill="#555" text-anchor="middle" textLength="9.51" lengthAdjust="spacingAndGlyphs">-50</text>
<text x="229.1" y="421.28" font-size="8.6" fill="#555" text-anchor="middle" textLength="4" lengthAdjust="spacingAndGlyphs">0</text>
<text x="248" y="421.28" font-size="8.6" fill="#555" text-anchor="middle" textLength="8.01" lengthAdjust="spacingAndGlyphs">50</text>
<text x="266.9" y="421.28" font-size="8.6" fill="#555" text-anchor="middle" textLength="12.01" lengthAdjust="spacingAndGlyphs">100</text>
<line x1="172.2" y1="344" x2="286" y2="344" stroke="#b9b9b9" stroke-width="1.15"/>
<line x1="229.5" y1="277" x2="229.5" y2="410.5" stroke="#b9b9b9" stroke-width="1.15"/>
<ellipse cx="229.3" cy="343.7" rx="53.1" ry="58.6" fill="none" stroke="#7a7a7a" stroke-width="1.4"/>
<text x="229.3" y="430.12" font-size="7" fill="#707070" text-anchor="middle" textLength="8.4" lengthAdjust="spacingAndGlyphs">t[1]</text>
<text x="155.6" y="344" font-size="7" fill="#707070" text-anchor="middle" textLength="9.5" lengthAdjust="spacingAndGlyphs" transform="rotate(-90 155.6 344)">t[2]</text>
<polygon points="216.7,325 211.2,334.7 222.2,334.7" fill="#ea2a2a" stroke="#d02020" stroke-width="0.7" stroke-linejoin="round"/>
<polygon points="217.8,338.2 212.3,347.6 223.3,347.6" fill="#ea2a2a" stroke="#d02020" stroke-width="0.7" stroke-linejoin="round"/>
<polygon points="219.4,353.5 213.9,363.5 224.9,363.5" fill="#ea2a2a" stroke="#d02020" stroke-width="0.7" stroke-linejoin="round"/>
<polygon points="238.6,317 233.1,326.4 244.1,326.4" fill="#f6f63c" stroke="#c8c83a" stroke-width="0.7" stroke-linejoin="round"/>
<polygon points="241.7,346.3 236.2,356.3 247.2,356.3" fill="#f6f63c" stroke="#c8c83a" stroke-width="0.7" stroke-linejoin="round"/>
<polygon points="295.6,273.7 291.75,280.9 299.45,280.9" fill="#ea2a2a" stroke="#d02020" stroke-width="0.7" stroke-linejoin="round"/>
<polygon points="295.6,284.3 291.75,291.3 299.45,291.3" fill="#f6f63c" stroke="#c8c83a" stroke-width="0.7" stroke-linejoin="round"/>
<text x="300.9" y="280.5" font-size="7.9" fill="#4a4a4a" textLength="94.3" lengthAdjust="spacingAndGlyphs">Heat stress(geno16, PI425243)</text>
<text x="300.9" y="290.9" font-size="7.9" fill="#4a4a4a" textLength="100" lengthAdjust="spacingAndGlyphs">Heat stress(geno19, PIPI223002)</text>
<text x="192.8" y="482" font-size="17" fill="#000" font-weight="bold" textLength="19.2" lengthAdjust="spacingAndGlyphs" stroke="#000" stroke-width="0.3">(e)</text>
<text x="366.5" y="482" font-size="17" fill="#000" font-weight="bold" textLength="15.6" lengthAdjust="spacingAndGlyphs" stroke="#000" stroke-width="0.3">(f)</text>
<line x1="485.92" y1="21.7" x2="485.92" y2="211.3" stroke="#e6e6e6" stroke-width="1"/>
<line x1="520.08" y1="21.7" x2="520.08" y2="211.3" stroke="#e6e6e6" stroke-width="1"/>
<line x1="554.24" y1="21.7" x2="554.24" y2="211.3" stroke="#e6e6e6" stroke-width="1"/>
<line x1="588.4" y1="21.7" x2="588.4" y2="211.3" stroke="#e6e6e6" stroke-width="1"/>
<line x1="622.56" y1="21.7" x2="622.56" y2="211.3" stroke="#e6e6e6" stroke-width="1"/>
<line x1="656.72" y1="21.7" x2="656.72" y2="211.3" stroke="#e6e6e6" stroke-width="1"/>
<line x1="473.9" y1="61.45" x2="677.6" y2="61.45" stroke="#e6e6e6" stroke-width="1"/>
<line x1="473.9" y1="117.5" x2="677.6" y2="117.5" stroke="#e6e6e6" stroke-width="1"/>
<line x1="473.9" y1="173.55" x2="677.6" y2="173.55" stroke="#e6e6e6" stroke-width="1"/>
<rect x="473.9" y="21.7" width="203.7" height="189.6" fill="none" stroke="#a6a6a6" stroke-width="1.15"/>
<line x1="485.92" y1="211.3" x2="485.92" y2="214.3" stroke="#777" stroke-width="0.8"/>
<text x="485.92" y="222.54" font-size="5.1" fill="#444" text-anchor="middle">-60</text>
<line x1="520.08" y1="211.3" x2="520.08" y2="214.3" stroke="#777" stroke-width="0.8"/>
<text x="520.08" y="222.54" font-size="5.1" fill="#444" text-anchor="middle">-40</text>
<line x1="554.24" y1="211.3" x2="554.24" y2="214.3" stroke="#777" stroke-width="0.8"/>
<text x="554.24" y="222.54" font-size="5.1" fill="#444" text-anchor="middle">-20</text>
<line x1="588.4" y1="211.3" x2="588.4" y2="214.3" stroke="#777" stroke-width="0.8"/>
<text x="588.4" y="222.54" font-size="5.1" fill="#444" text-anchor="middle">0</text>
<line x1="622.56" y1="211.3" x2="622.56" y2="214.3" stroke="#777" stroke-width="0.8"/>
<text x="622.56" y="222.54" font-size="5.1" fill="#444" text-anchor="middle">20</text>
<line x1="656.72" y1="211.3" x2="656.72" y2="214.3" stroke="#777" stroke-width="0.8"/>
<text x="656.72" y="222.54" font-size="5.1" fill="#444" text-anchor="middle">40</text>
<line x1="470.9" y1="61.45" x2="473.9" y2="61.45" stroke="#777" stroke-width="0.8"/>
<text x="466.84" y="61.45" font-size="5.1" fill="#444" text-anchor="middle" transform="rotate(-90 466.84 61.45)">50</text>
<line x1="470.9" y1="117.5" x2="473.9" y2="117.5" stroke="#777" stroke-width="0.8"/>
<text x="466.84" y="117.5" font-size="5.1" fill="#444" text-anchor="middle" transform="rotate(-90 466.84 117.5)">0</text>
<line x1="470.9" y1="173.55" x2="473.9" y2="173.55" stroke="#777" stroke-width="0.8"/>
<text x="466.84" y="173.55" font-size="5.1" fill="#444" text-anchor="middle" transform="rotate(-90 466.84 173.55)">-50</text>
<text x="575.9" y="15" font-size="7" fill="#222" text-anchor="middle" font-weight="bold" textLength="35.7" lengthAdjust="spacingAndGlyphs">Scores Plot</text>
<text x="575.6" y="234.81" font-size="5.3" fill="#333" text-anchor="middle">PC 1 ( 57 %)</text>
<text x="455.01" y="116" font-size="5.3" fill="#333" text-anchor="middle" transform="rotate(-90 455.01 116)">PC 2 ( 18.7 %)</text>
<ellipse cx="532" cy="117.8" rx="61.8" ry="2.9" transform="rotate(52.76 532 117.8)" fill="#90ee90" fill-opacity="0.46"/>
<ellipse cx="644.1" cy="118.2" rx="72.19" ry="0.7" transform="rotate(99.49 644.1 118.2)" fill="#f5f5ff"/>
<circle cx="522" cy="106.6" r="2.35" fill="#5ee650" fill-opacity="0.8"/>
<circle cx="524.8" cy="106.6" r="2.35" fill="#5ee650" fill-opacity="0.8"/>
<circle cx="549.5" cy="141.7" r="2.35" fill="#5ee650" fill-opacity="0.8"/>
<circle cx="647.4" cy="96.5" r="2.45" fill="#3c3cff" fill-opacity="0.62"/>
<circle cx="646.7" cy="100.8" r="2.45" fill="#3c3cff" fill-opacity="0.62"/>
<circle cx="638" cy="152.1" r="2.45" fill="#3c3cff" fill-opacity="0.62"/>
<text x="408.5" y="219.2" font-size="17" fill="#000" font-weight="bold" textLength="17.9" lengthAdjust="spacingAndGlyphs" stroke="#000" stroke-width="0.3">(c)</text>
<line x1="455.9" y1="261.6" x2="455.9" y2="473.6" stroke="#e6e6e6" stroke-width="1"/>
<line x1="496.3" y1="261.6" x2="496.3" y2="473.6" stroke="#e6e6e6" stroke-width="1"/>
<line x1="536.7" y1="261.6" x2="536.7" y2="473.6" stroke="#e6e6e6" stroke-width="1"/>
<line x1="577.1" y1="261.6" x2="577.1" y2="473.6" stroke="#e6e6e6" stroke-width="1"/>
<line x1="617.5" y1="261.6" x2="617.5" y2="473.6" stroke="#e6e6e6" stroke-width="1"/>
<line x1="434.3" y1="284.1" x2="646.5" y2="284.1" stroke="#e6e6e6" stroke-width="1"/>
<line x1="434.3" y1="311.95" x2="646.5" y2="311.95" stroke="#e6e6e6" stroke-width="1"/>
<line x1="434.3" y1="339.8" x2="646.5" y2="339.8" stroke="#e6e6e6" stroke-width="1"/>
<line x1="434.3" y1="367.65" x2="646.5" y2="367.65" stroke="#e6e6e6" stroke-width="1"/>
<line x1="434.3" y1="395.5" x2="646.5" y2="395.5" stroke="#e6e6e6" stroke-width="1"/>
<line x1="434.3" y1="423.35" x2="646.5" y2="423.35" stroke="#e6e6e6" stroke-width="1"/>
<line x1="434.3" y1="451.2" x2="646.5" y2="451.2" stroke="#e6e6e6" stroke-width="1"/>
<rect x="434.3" y="261.6" width="212.2" height="212" fill="none" stroke="#959595" stroke-width="1.15"/>
<line x1="455.9" y1="473.6" x2="455.9" y2="476.6" stroke="#777" stroke-width="0.8"/>
<text x="455.9" y="485.89" font-size="5.8" fill="#444" text-anchor="middle">-40</text>
<line x1="496.3" y1="473.6" x2="496.3" y2="476.6" stroke="#777" stroke-width="0.8"/>
<text x="496.3" y="485.89" font-size="5.8" fill="#444" text-anchor="middle">-20</text>
<line x1="536.7" y1="473.6" x2="536.7" y2="476.6" stroke="#777" stroke-width="0.8"/>
<text x="536.7" y="485.89" font-size="5.8" fill="#444" text-anchor="middle">0</text>
<line x1="577.1" y1="473.6" x2="577.1" y2="476.6" stroke="#777" stroke-width="0.8"/>
<text x="577.1" y="485.89" font-size="5.8" fill="#444" text-anchor="middle">20</text>
<line x1="617.5" y1="473.6" x2="617.5" y2="476.6" stroke="#777" stroke-width="0.8"/>
<text x="617.5" y="485.89" font-size="5.8" fill="#444" text-anchor="middle">40</text>
<line x1="431.3" y1="284.1" x2="434.3" y2="284.1" stroke="#777" stroke-width="0.8"/>
<text x="426.69" y="284.1" font-size="5.8" fill="#444" text-anchor="middle" transform="rotate(-90 426.69 284.1)">60</text>
<line x1="431.3" y1="311.95" x2="434.3" y2="311.95" stroke="#777" stroke-width="0.8"/>
<text x="426.69" y="311.95" font-size="5.8" fill="#444" text-anchor="middle" transform="rotate(-90 426.69 311.95)">40</text>
<line x1="431.3" y1="339.8" x2="434.3" y2="339.8" stroke="#777" stroke-width="0.8"/>
<text x="426.69" y="339.8" font-size="5.8" fill="#444" text-anchor="middle" transform="rotate(-90 426.69 339.8)">20</text>
<line x1="431.3" y1="367.65" x2="434.3" y2="367.65" stroke="#777" stroke-width="0.8"/>
<text x="426.69" y="367.65" font-size="5.8" fill="#444" text-anchor="middle" transform="rotate(-90 426.69 367.65)">0</text>
<line x1="431.3" y1="395.5" x2="434.3" y2="395.5" stroke="#777" stroke-width="0.8"/>
<text x="426.69" y="395.5" font-size="5.8" fill="#444" text-anchor="middle" transform="rotate(-90 426.69 395.5)">-20</text>
<line x1="431.3" y1="423.35" x2="434.3" y2="423.35" stroke="#777" stroke-width="0.8"/>
<text x="426.69" y="423.35" font-size="5.8" fill="#444" text-anchor="middle" transform="rotate(-90 426.69 423.35)">-40</text>
<line x1="431.3" y1="451.2" x2="434.3" y2="451.2" stroke="#777" stroke-width="0.8"/>
<text x="426.69" y="451.2" font-size="5.8" fill="#444" text-anchor="middle" transform="rotate(-90 426.69 451.2)">-60</text>
<text x="540.2" y="254.3" font-size="7" fill="#222" text-anchor="middle" font-weight="bold" textLength="36.6" lengthAdjust="spacingAndGlyphs">Scores Plot</text>
<text x="540.4" y="499.65" font-size="5.7" fill="#333" text-anchor="middle">PC 1 ( 54.8 %)</text>
<text x="413.95" y="366.2" font-size="5.7" fill="#333" text-anchor="middle" transform="rotate(-90 413.95 366.2)">PC 2 ( 18.6 %)</text>
<ellipse cx="476.7" cy="367.2" rx="86.63" ry="6.8" transform="rotate(76.11 476.7 367.2)" fill="#ef8f95" fill-opacity="0.45"/>
<ellipse cx="596.6" cy="367.05" rx="64.91" ry="3.9" transform="rotate(115.16 596.6 367.05)" fill="#f5f07a" fill-opacity="0.42"/>
<polygon points="468.5,326.4 465.7,331.3 471.3,331.3" fill="#ea5f66" stroke="none" stroke-width="0" stroke-linejoin="round"/>
<polygon points="475.2,371.7 472.4,376.6 478,376.6" fill="#ea5f66" stroke="none" stroke-width="0" stroke-linejoin="round"/>
<polygon points="485.3,393.9 482.5,398.8 488.1,398.8" fill="#ea5f66" stroke="none" stroke-width="0" stroke-linejoin="round"/>
<polygon points="603.3,346.6 600.5,351.5 606.1,351.5" fill="#fbef4f" stroke="none" stroke-width="0" stroke-linejoin="round"/>
<polygon points="603.2,354.1 600.4,359 606,359" fill="#fbef4f" stroke="none" stroke-width="0" stroke-linejoin="round"/>
<polygon points="583.6,391.6 580.8,396.5 586.4,396.5" fill="#fbef4f" stroke="none" stroke-width="0" stroke-linejoin="round"/>
<g transform="translate(685,0) rotate(90)">
<polygon points="293.3,1.1 287.4,11.8 299.2,11.8" fill="#ea2a2a" stroke="#d02020" stroke-width="0.6"/>
<polygon points="293.3,15.4 287.4,25.7 299.2,25.7" fill="#f6f63c" stroke="#c8c83a" stroke-width="0.6"/>
<text x="302" y="11.2" font-size="10" fill="#2a2a2a" textLength="135" lengthAdjust="spacingAndGlyphs">Heat stress(geno16, PI425243)</text>
<text x="302" y="25.5" font-size="10" fill="#2a2a2a" textLength="144" lengthAdjust="spacingAndGlyphs">Heat stress(geno19, PIPI223002)</text>
</g>
</svg></body></html>
